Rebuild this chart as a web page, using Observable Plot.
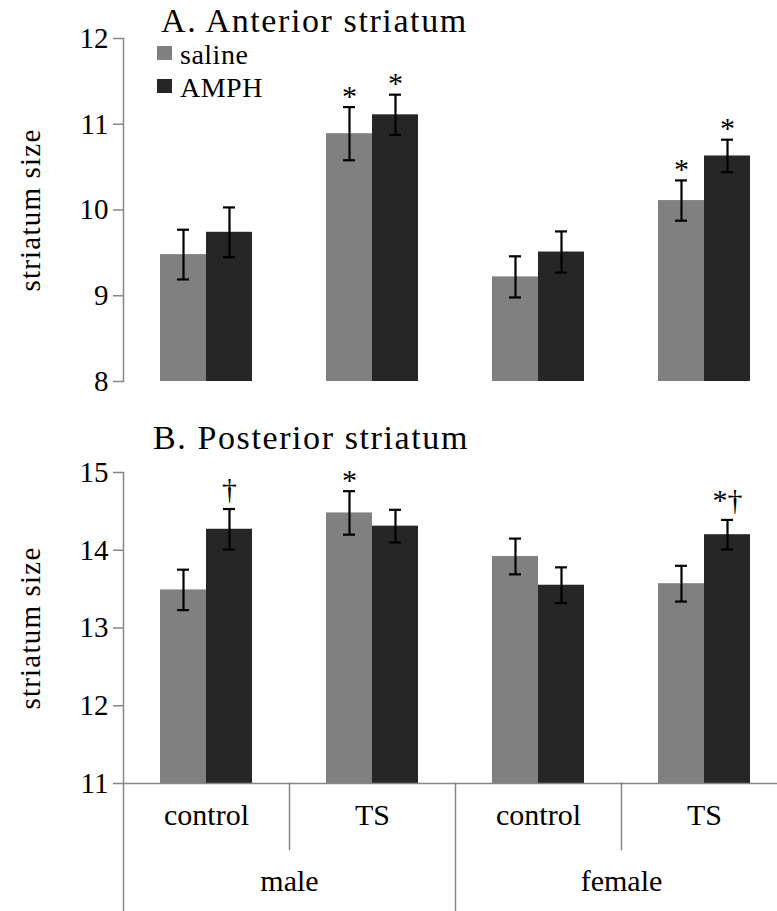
<!DOCTYPE html>
<html>
<head>
<meta charset="utf-8">
<script src="https://cdn.jsdelivr.net/npm/d3@7"></script>
<script src="https://cdn.jsdelivr.net/npm/@observablehq/plot@0.6"></script>
<style>
html, body { margin: 0; padding: 0; background: #fff; overflow: hidden; }
#chart { position: relative; width: 777px; height: 911px; font-family: "Liberation Serif", "Times New Roman", serif; color: #000; }
#chart svg, #chart svg text { font-family: "Liberation Serif", "Times New Roman", serif; }
.panel { position: absolute; left: 0; }
.title { position: absolute; font-size: 34px; line-height: 34px; letter-spacing: 1.6px; white-space: nowrap; }
.legend-item { position: absolute; display: flex; align-items: flex-start; font-size: 28px; line-height: 28px; letter-spacing: 0.5px; white-space: nowrap; }
.swatch { width: 15px; height: 14px; margin-top: 5.5px; margin-right: 8px; }
</style>
</head>
<body>
<div id="chart"></div>
<script>
// ---- data ----
const sexes = ["male", "female"];
const groups = ["control", "TS"];
const treatments = ["saline", "AMPH"];
const treatmentColors = ["#808080", "#262626"];
const panelTitles = ["A. Anterior striatum", "B. Posterior striatum"];
const yLabel = "striatum size";
const anteriorTicks = [8, 9, 10, 11, 12];
const posteriorTicks = [11, 12, 13, 14, 15];

// order: male control, male TS, female control, female TS
const anteriorSaline    = [9.48, 10.89, 9.22, 10.11];
const anteriorSalineErr = [0.29, 0.31, 0.24, 0.235];
const anteriorAmph      = [9.74, 11.11, 9.51, 10.63];
const anteriorAmphErr   = [0.29, 0.235, 0.24, 0.19];
const anteriorSalineSig = ["", "*", "", "*"];
const anteriorAmphSig   = ["", "*", "", "*"];

const posteriorSaline    = [13.49, 14.48, 13.92, 13.57];
const posteriorSalineErr = [0.26, 0.28, 0.23, 0.23];
const posteriorAmph      = [14.27, 14.31, 13.55, 14.20];
const posteriorAmphErr   = [0.26, 0.21, 0.23, 0.19];
const posteriorSalineSig = ["", "*", "", ""];
const posteriorAmphSig   = ["†", "", "", "*†"];

// ---- derived ----
const keyOf = (s, g) => `${s} ${g}`;
const categories = sexes.flatMap(s => groups.map(g => ({key: keyOf(s, g), sex: s, group: g})));
const categoryKeys = categories.map(c => c.key);

const axisColor = "#878787";
const FONT = "'Liberation Serif', 'Times New Roman', serif";
const W = 777;

function buildRows(sal, salErr, amp, ampErr, salSig, ampSig) {
  const rows = [];
  categories.forEach((c, i) => {
    rows.push({key: c.key, treatment: treatments[0], value: sal[i], err: salErr[i], sig: salSig[i]});
    rows.push({key: c.key, treatment: treatments[1], value: amp[i], err: ampErr[i], sig: ampSig[i]});
  });
  return rows;
}

function panel({rows, ticks, height, marginTop, marginBottom, bottomAxis}) {
  const base = ticks[0];
  const innerH = height - marginTop - marginBottom;
  const ew = 2.2;
  const hasDagger = d => d.sig.includes("†");
  const marks = [
    Plot.barY(rows, {fx: "key", x: "treatment", y1: () => base, y2: "value", fill: "treatment"}),
    Plot.ruleX(rows, {fx: "key", x: "treatment", y1: d => d.value - d.err, y2: d => d.value + d.err, stroke: "black", strokeWidth: ew}),
    Plot.tickY(rows, {fx: "key", x: "treatment", y: d => d.value + d.err, insetLeft: 17, insetRight: 17, stroke: "black", strokeWidth: ew}),
    Plot.tickY(rows, {fx: "key", x: "treatment", y: d => d.value - d.err, insetLeft: 17, insetRight: 17, stroke: "black", strokeWidth: ew}),
    Plot.text(rows.filter(d => d.sig && !hasDagger(d)), {fx: "key", x: "treatment", y: d => d.value + d.err, text: "sig", fontSize: 30, fontFamily: FONT, dy: -11, fill: "black"}),
    Plot.text(rows.filter(d => d.sig && hasDagger(d)), {fx: "key", x: "treatment", y: d => d.value + d.err, text: "sig", fontSize: 30, fontFamily: FONT, dy: -19.5, fill: "black"}),
    Plot.axisY({ticks, tickSize: 10, tickPadding: 5, fontSize: 29, fontFamily: FONT, stroke: axisColor, strokeWidth: 1.5, fill: "black",
      tickFormat: d => String(d), label: yLabel, labelAnchor: "center", labelOffset: 104, labelArrow: "none"}),
    Plot.frame({fx: categoryKeys[0], anchor: "left", stroke: axisColor, strokeWidth: 1.5, insetBottom: bottomAxis ? -127 : 0})
  ];
  if (bottomAxis) {
    marks.push(
      Plot.frame({anchor: "bottom", stroke: axisColor, strokeWidth: 1.5}),
      Plot.frame({fx: categoryKeys[2], anchor: "left", stroke: axisColor, strokeWidth: 1.5, insetTop: innerH, insetBottom: -127}),
      Plot.frame({fx: categoryKeys[1], anchor: "left", stroke: axisColor, strokeWidth: 1.5, insetTop: innerH, insetBottom: -66}),
      Plot.frame({fx: categoryKeys[3], anchor: "left", stroke: axisColor, strokeWidth: 1.5, insetTop: innerH, insetBottom: -66}),
      Plot.text(categories, {fx: "key", text: "group", frameAnchor: "bottom", dy: 41.4, fontSize: 30, fontFamily: FONT, fill: "black"}),
      Plot.text(sexes, {fx: d => keyOf(d, groups[1]), text: d => d, frameAnchor: "bottom-left", textAnchor: "middle", dy: 107.4, fontSize: 30, fontFamily: FONT, fill: "black"})
    );
  }
  const svg = Plot.plot({
    width: W,
    height,
    marginLeft: 123,
    marginRight: -10,
    marginTop,
    marginBottom,
    style: {fontFamily: FONT, fontSize: "29px", color: "black", background: "transparent", overflow: "visible"},
    fx: {domain: categoryKeys, padding: 0, axis: null},
    x: {domain: treatments, paddingInner: 0, paddingOuter: 0.766, axis: null},
    y: {domain: [ticks[0], ticks[ticks.length - 1]], nice: false},
    color: {domain: treatments, range: treatmentColors},
    marks
  });
  svg.querySelectorAll('g[aria-label="y-axis label"] text').forEach(t => t.style.letterSpacing = "1.2px");
  return svg;
}

const chart = document.getElementById("chart");

const svgA = panel({
  rows: buildRows(anteriorSaline, anteriorSalineErr, anteriorAmph, anteriorAmphErr, anteriorSalineSig, anteriorAmphSig),
  ticks: anteriorTicks, height: 400, marginTop: 38, marginBottom: 19, bottomAxis: false
});
const wrapA = document.createElement("div");
wrapA.className = "panel"; wrapA.style.top = "0px";
wrapA.appendChild(svgA);
chart.appendChild(wrapA);

const svgB = panel({
  rows: buildRows(posteriorSaline, posteriorSalineErr, posteriorAmph, posteriorAmphErr, posteriorSalineSig, posteriorAmphSig),
  ticks: posteriorTicks, height: 511, marginTop: 72, marginBottom: 128, bottomAxis: true
});
const wrapB = document.createElement("div");
wrapB.className = "panel"; wrapB.style.top = "400px";
wrapB.appendChild(svgB);
chart.appendChild(wrapB);

// titles
[[panelTitles[0], 161, 4.2], [panelTitles[1], 153, 420.8]].forEach(([t, left, top]) => {
  const d = document.createElement("div");
  d.className = "title";
  d.style.left = left + "px"; d.style.top = top + "px";
  d.textContent = t;
  chart.appendChild(d);
});

// legend
treatments.forEach((t, i) => {
  const item = document.createElement("div");
  item.className = "legend-item";
  item.style.left = "157px";
  item.style.top = (40.5 + i * 33) + "px";
  const sw = document.createElement("span");
  sw.className = "swatch";
  sw.style.background = treatmentColors[i];
  const lab = document.createElement("span");
  lab.textContent = t;
  item.appendChild(sw); item.appendChild(lab);
  chart.appendChild(item);
});
</script>
</body>
</html>
